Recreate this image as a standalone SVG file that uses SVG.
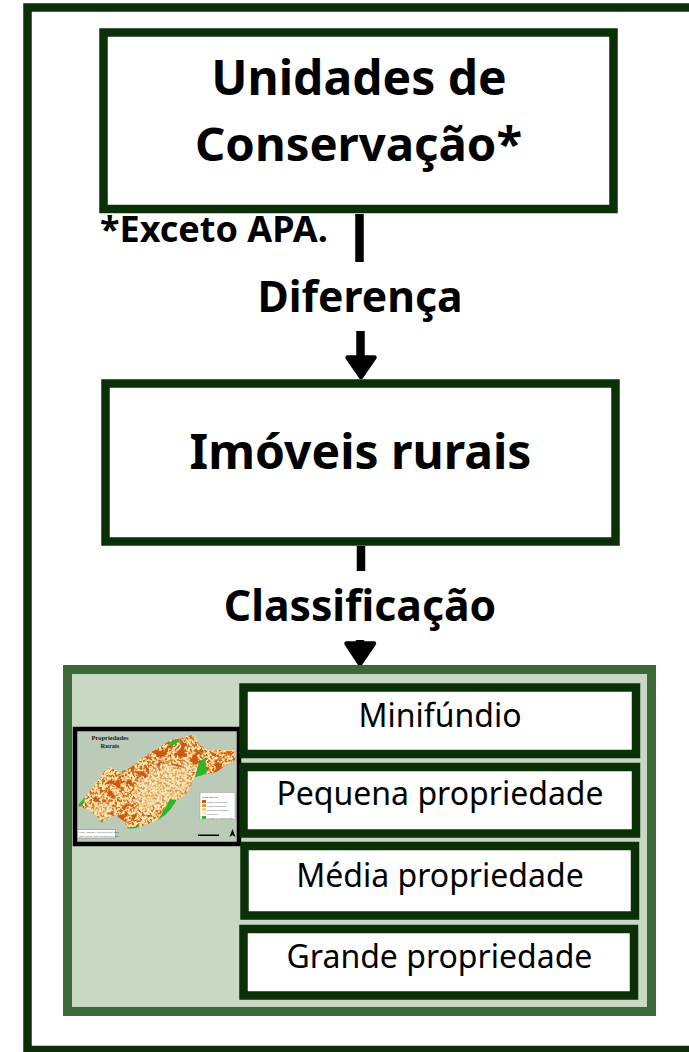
<svg xmlns="http://www.w3.org/2000/svg" width="689" height="1052" viewBox="0 0 689 1052">
<style>
.frame{fill:#fff;stroke:#0b3008;stroke-width:8.5}
.sub{fill:#fff;stroke:#0b3008;stroke-width:8.5}
.h{font-family:"Noto Sans","Open Sans","DejaVu Sans",sans-serif;font-weight:700;font-size:48px;text-anchor:middle;fill:#000}
.s{font-size:42.700px}
.l{font-family:"Noto Sans","Open Sans","DejaVu Sans",sans-serif;font-size:32px;text-anchor:middle;fill:#000}
.link{stroke:#000;stroke-width:8.5;fill:none}
.head{fill:#000;stroke:#000;stroke-width:4.500;stroke-linejoin:round}
.m{font-family:"Liberation Serif",serif;font-weight:700;font-size:6.500px;text-anchor:middle;fill:#222}
.leg{font-family:"Liberation Sans",sans-serif;font-size:2.300px;fill:#555}
</style>
<defs>
<filter id="speckle" x="0" y="0" width="100%" height="100%" color-interpolation-filters="sRGB">
<feTurbulence type="fractalNoise" baseFrequency="0.4" numOctaves="2" seed="7"/>
<feColorMatrix type="matrix" values="3 0 0 0 -1 3 0 0 0 -1 3 0 0 0 -1 0 0 0 0 1"/>
<feComponentTransfer>
<feFuncR type="discrete" tableValues="0.80 0.92 0.94 0.96 0.96 0.95"/>
<feFuncG type="discrete" tableValues="0.40 0.58 0.68 0.80 0.90 0.91"/>
<feFuncB type="discrete" tableValues="0.10 0.22 0.36 0.55 0.72 0.74"/>
</feComponentTransfer>
</filter>
<filter id="blotch" x="0" y="0" width="100%" height="100%" color-interpolation-filters="sRGB">
<feTurbulence type="fractalNoise" baseFrequency="0.14" numOctaves="3" seed="11"/>
<feColorMatrix type="matrix" values="0 0 0 0 .78 0 0 0 0 .35 0 0 0 0 .07 7 0 0 0 -3.500"/>
</filter>
<filter id="soft" x="-20%" y="-20%" width="140%" height="140%"><feGaussianBlur stdDeviation="3"/></filter>
<clipPath id="land"><path d="M78 805L85 797L93 787L102 773L110 767L120 772L130 768L143 757L160 747L170 740L187 736L195 735L198 743L207 750L223 750L235 750L235 760L223 767L217 772L203 775L195 777L187 793L178 800L167 813L153 822L137 828L127 828L125 822L115 815L102 822L90 810L80 807Z"/></clipPath>
<clipPath id="bands"><path d="M85 797L125 770L160 745L195 733L205 755L236 750L236 765L205 778L195 770L170 765L150 775L130 790L115 800L100 805Z M105 815L135 800L140 810L128 830L120 825Z"/></clipPath>
</defs>
<g id="outer-frame"><rect x="27.500" y="7.500" width="700" height="1042.500" class="frame"/></g>
<g id="connectors">
<path class="link" d="M359.500 214V262"/>
<path class="link" d="M360.500 331V360"/>
<path class="head" d="M347.500 357.500H374.500L361 377Z"/>
<path class="link" d="M361 546V571"/>
<path class="link" d="M360 640V646"/>
<path class="head" d="M346.500 643.500H374L360 664Z"/>
</g>
<g id="unidades">
<rect x="103.500" y="32.500" width="510" height="176.500" class="frame"/>
<text x="359" y="95" class="h">Unidades de</text>
<text x="358.500" y="161" class="h" style="font-size:47.300px">Conservação*</text>
</g>
<text x="100" y="242" font-family="Noto Sans, sans-serif" font-weight="700" font-size="36" fill="#000">*Exceto APA.</text>
<text x="360" y="312" class="h s">Diferença</text>
<g id="imoveis">
<rect x="105.500" y="383.500" width="510" height="158" class="frame"/>
<text x="360.500" y="469" class="h">Imóveis rurais</text>
</g>
<text x="360" y="621" class="h s">Classificação</text>
<g id="panel">
<rect x="67.500" y="669.500" width="584" height="342" fill="#c8d8c4" stroke="#3c6838" stroke-width="9"/>
</g>
<g id="map">
<rect x="75" y="729" width="164" height="115" fill="#bccbb7" stroke="#000" stroke-width="4.500"/>
<text x="110" y="740" class="m">Propriedades</text>
<text x="110" y="748" class="m">Rurais</text>
<g clip-path="url(#land)">
<rect x="76" y="732" width="162" height="100" filter="url(#speckle)"/>
<path d="M160 762L193 762L190 790L167 808L137 810L137 780Z M93 803L113 803L113 817L93 817Z" fill="#f3e6bc" opacity=".45" filter="url(#soft)"/>
<g clip-path="url(#bands)"><rect x="76" y="732" width="162" height="100" filter="url(#blotch)"/></g>
</g>
<path d="M195 777L199 762L205 758L207 772L203 775Z M158 820L165 808L170 799L177 800L170 810L165 815Z M167 743L178 739L180 741L172 746Z M78 805L85 797L84 803L80 807Z M100 821L104 819L102 823Z M127 829L140 825L137 828Z" fill="#2fb52a"/>
<rect x="200" y="792.500" width="35" height="27" fill="#fff" stroke="#999" stroke-width=".5"/>
<text x="202" y="797.500" class="leg" font-weight="700">Posse da terra</text>
<g class="leg">
<rect x="202" y="800" width="4" height="3" fill="#c85a12"/><text x="207" y="802.500">Grande propriedade</text>
<rect x="202" y="804" width="4" height="3" fill="#f0973a"/><text x="207" y="806.500">Média propriedade</text>
<rect x="202" y="808" width="4" height="3" fill="#f7c98c"/><text x="207" y="810.500">Pequena propriedade</text>
<rect x="202" y="812" width="4" height="3" fill="#f7eebc"/><text x="207" y="814.500">Minifúndio</text>
<rect x="202" y="816" width="4" height="3" fill="#2fb52a"/><text x="207" y="818.500">Unidade de Conservação</text>
</g>
<rect x="77.500" y="829.500" width="38" height="8.500" fill="#fff" stroke="#777" stroke-width=".5"/>
<text x="79" y="833" class="leg">Fonte: Cadastro Ambiental Rural, 2022</text>
<text x="79" y="836.500" class="leg">SRM: 31982 - SIRGAS 2000/UTM 22S</text>
<rect x="198" y="834.500" width="21" height="1.500" fill="#000"/>
<path d="M232.500 829L235.500 837L232.500 835L229.500 837Z" fill="#000"/>
</g>
<g id="minifundio"><rect x="243.500" y="687.500" width="392.500" height="66.500" class="sub"/><text x="440" y="727" class="l">Minifúndio</text></g>
<g id="pequena"><rect x="243.500" y="767" width="392.500" height="66.500" class="sub"/><text x="440" y="805" class="l">Pequena propriedade</text></g>
<g id="media"><rect x="244.500" y="846" width="390.500" height="69.500" class="sub"/><text x="440" y="886.500" class="l">Média propriedade</text></g>
<g id="grande"><rect x="243.500" y="929" width="390.500" height="66.500" class="sub"/><text x="439.500" y="967.500" class="l">Grande propriedade</text></g>
</svg>
